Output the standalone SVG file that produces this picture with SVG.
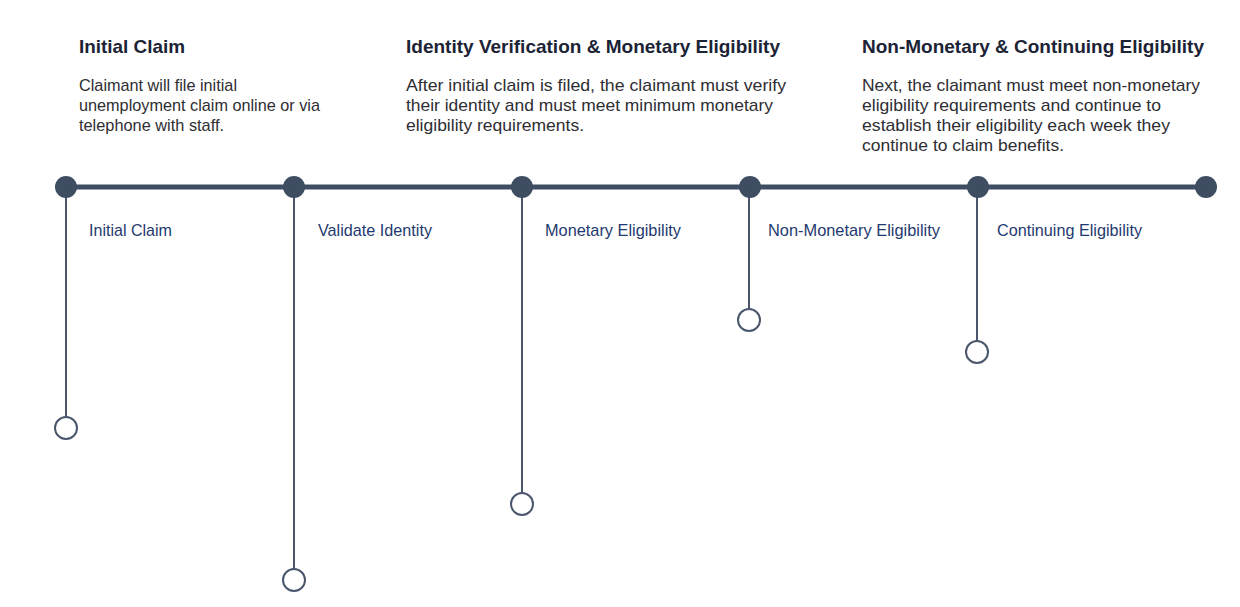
<svg xmlns="http://www.w3.org/2000/svg" width="1240" height="607" viewBox="0 0 1240 607">
<style>
text{font-family:"Liberation Sans",Arial,sans-serif}
.h{font-size:19px;font-weight:bold;fill:#1b2335}
.b{font-size:17px;fill:#2e2e33}
.l{font-size:17px;fill:#1f3a70}
.main{stroke:#3f4d63;stroke-width:5}
.stem{stroke:#4a566b;stroke-width:2;fill:none}
.dot{fill:#3f4d63}
.end{fill:#fff;stroke:#4a566b;stroke-width:2}
</style>
<rect width="1240" height="607" fill="#fff"/>
<g id="connectors">
<line class="main" x1="66" y1="187" x2="1206" y2="187"/>
<line class="stem" x1="66" y1="187" x2="66" y2="417"/>
<line class="stem" x1="294" y1="187" x2="294" y2="569"/>
<line class="stem" x1="522" y1="187" x2="522" y2="493"/>
<line class="stem" x1="749" y1="187" x2="749" y2="309"/>
<line class="stem" x1="977" y1="187" x2="977" y2="341"/>
</g>
<g id="dots">
<circle class="dot" cx="66" cy="187" r="11"/>
<circle class="dot" cx="294" cy="187" r="11"/>
<circle class="dot" cx="522" cy="187" r="11"/>
<circle class="dot" cx="750" cy="187" r="11"/>
<circle class="dot" cx="978" cy="187" r="11"/>
<circle class="dot" cx="1206" cy="187" r="11"/>
</g>
<g id="node-initial-claim">
<text class="l" x="89" y="236" textLength="83" lengthAdjust="spacingAndGlyphs">Initial Claim</text>
<circle class="end" cx="66" cy="428" r="11"/>
</g>
<g id="node-validate-identity">
<text class="l" x="318" y="236" textLength="114" lengthAdjust="spacingAndGlyphs">Validate Identity</text>
<circle class="end" cx="294" cy="580" r="11"/>
</g>
<g id="node-monetary">
<text class="l" x="545" y="236" textLength="136" lengthAdjust="spacingAndGlyphs">Monetary Eligibility</text>
<circle class="end" cx="522" cy="504" r="11"/>
</g>
<g id="node-non-monetary">
<text class="l" x="768" y="236" textLength="172" lengthAdjust="spacingAndGlyphs">Non-Monetary Eligibility</text>
<circle class="end" cx="749" cy="320" r="11"/>
</g>
<g id="node-continuing">
<text class="l" x="997" y="236" textLength="145" lengthAdjust="spacingAndGlyphs">Continuing Eligibility</text>
<circle class="end" cx="977" cy="352" r="11"/>
</g>
<g id="phase-1">
<text class="h" x="79" y="53" textLength="106" lengthAdjust="spacingAndGlyphs">Initial Claim</text>
<text class="b" x="79" y="91" textLength="158" lengthAdjust="spacingAndGlyphs">Claimant will file initial</text>
<text class="b" x="79" y="111" textLength="241" lengthAdjust="spacingAndGlyphs">unemployment claim online or via</text>
<text class="b" x="79" y="131" textLength="145" lengthAdjust="spacingAndGlyphs">telephone with staff.</text>
</g>
<g id="phase-2">
<text class="h" x="406" y="53" textLength="374" lengthAdjust="spacingAndGlyphs">Identity Verification &amp; Monetary Eligibility</text>
<text class="b" x="406" y="91" textLength="380" lengthAdjust="spacingAndGlyphs">After initial claim is filed, the claimant must verify</text>
<text class="b" x="406" y="111" textLength="367" lengthAdjust="spacingAndGlyphs">their identity and must meet minimum monetary</text>
<text class="b" x="406" y="131" textLength="178" lengthAdjust="spacingAndGlyphs">eligibility requirements.</text>
</g>
<g id="phase-3">
<text class="h" x="862" y="53" textLength="342" lengthAdjust="spacingAndGlyphs">Non-Monetary &amp; Continuing Eligibility</text>
<text class="b" x="862" y="91" textLength="338" lengthAdjust="spacingAndGlyphs">Next, the claimant must meet non-monetary</text>
<text class="b" x="862" y="111" textLength="299" lengthAdjust="spacingAndGlyphs">eligibility requirements and continue to</text>
<text class="b" x="862" y="131" textLength="308" lengthAdjust="spacingAndGlyphs">establish their eligibility each week they</text>
<text class="b" x="862" y="151" textLength="202" lengthAdjust="spacingAndGlyphs">continue to claim benefits.</text>
</g>
</svg>
